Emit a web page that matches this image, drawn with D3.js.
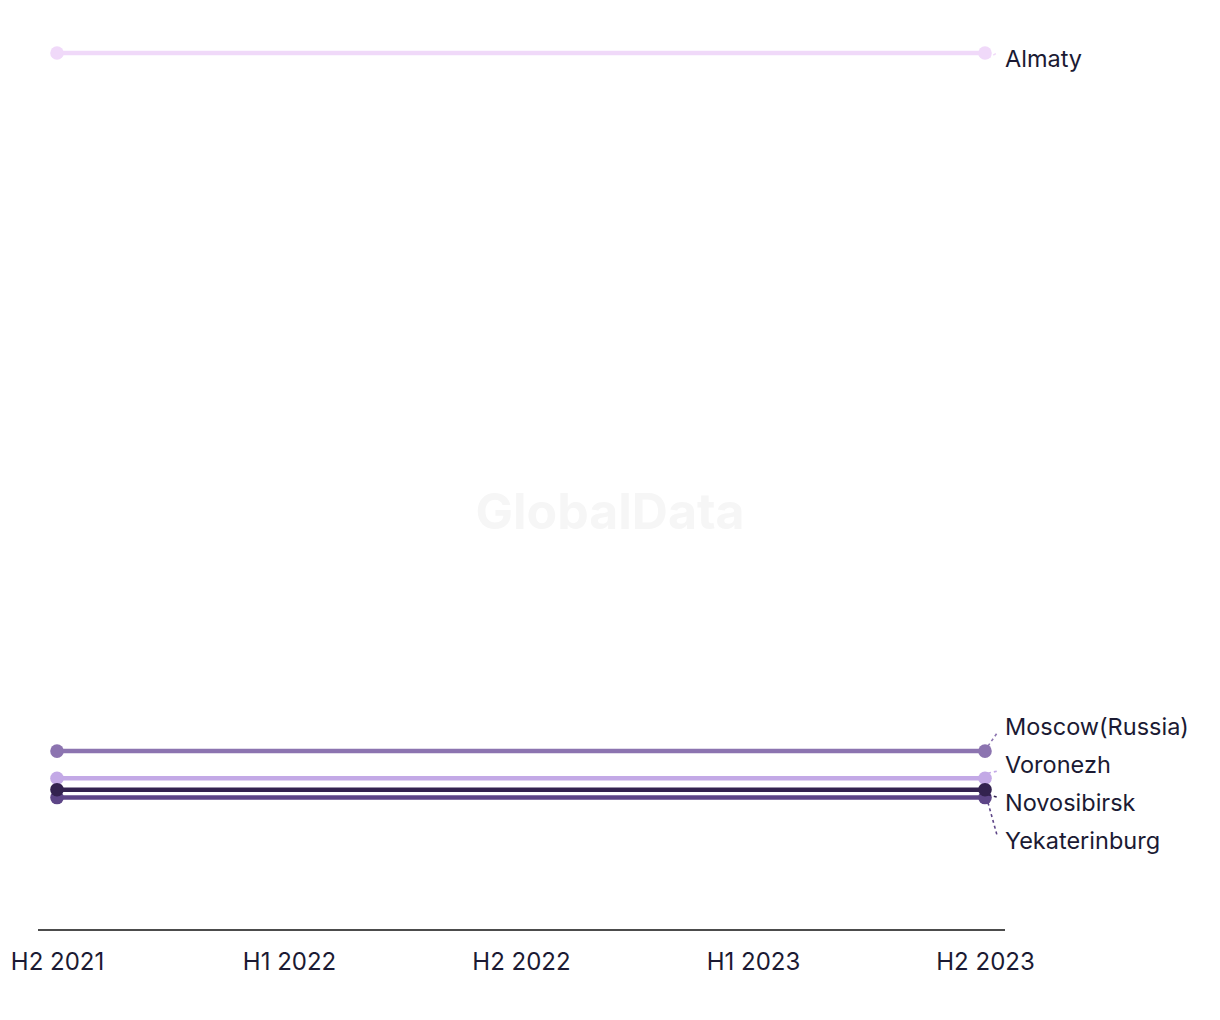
<!DOCTYPE html>
<html><head><meta charset="utf-8">
<script src="https://cdn.jsdelivr.net/npm/d3@7"></script>
<style>
body{margin:0;background:#fff;}
svg{display:block;font-family:Inter,"Noto Sans",sans-serif;}
</style></head>
<body><svg id="c" width="1220" height="1020"></svg>
<script>
const periods = ["H2 2021","H1 2022","H2 2022","H1 2023","H2 2023"];
const seriesNames = ["Almaty","Moscow(Russia)","Voronezh","Yekaterinburg","Novosibirsk"];
const seriesColors = ["#f0d9f9","#8c74b0","#c3a9e6","#5d4587","#33224f"];
const almaty      = [100, null, null, null, 100];
const moscow      = [20.4, null, null, null, 20.4];
const voronezh    = [17.3, null, null, null, 17.3];
const yekaterinburg = [15.1, null, null, null, 15.1];
const novosibirsk = [16.0, null, null, null, 16.0];
const seriesValues = [almaty, moscow, voronezh, yekaterinburg, novosibirsk];
const labelOrder = ["Almaty","Moscow(Russia)","Voronezh","Novosibirsk","Yekaterinburg"];

const svg = d3.select("#c");
const x = d3.scalePoint().domain(periods).range([57, 985]);
const y = d3.scaleLinear().domain([0, 100]).range([930, 53]);

// watermark
svg.append("text").attr("x", 610).attr("y", 529).attr("text-anchor","middle")
  .attr("font-size", 50).attr("font-weight", 700).attr("fill", "#f6f6f6")
  .attr("font-family","Inter,sans-serif").text("GlobalData");

// axis
const axisG = svg.append("g").attr("transform","translate(0,930)")
  .call(d3.axisBottom(x).tickSize(0).tickPadding(23));
axisG.select(".domain").attr("d","M38,0H1005").attr("stroke","#111").attr("stroke-width",1.6);
axisG.selectAll("text").attr("font-size",24).attr("fill","#1b1a33").attr("font-family","Inter,sans-serif");

const line = d3.line().x(d=>x(d.p)).y(d=>y(d.v));
const series = seriesNames.map((n,i)=>({name:n,color:seriesColors[i],
  pts:seriesValues[i].map((v,j)=>({p:periods[j],v})).filter(d=>d.v!=null)}));

series.forEach(s=>{
  svg.append("path").datum(s.pts).attr("d",line).attr("fill","none")
    .attr("stroke",s.color).attr("stroke-width",4.5);
  svg.selectAll(null).data(s.pts).enter().append("circle")
    .attr("cx",d=>x(d.p)).attr("cy",d=>y(d.v)).attr("r",6.8).attr("fill",s.color);
});

// labels with simple collision avoidance
const labels = series.map(s=>({name:s.name,color:s.color,py:y(s.pts[s.pts.length-1].v)}))
  .sort((a,b)=>labelOrder.indexOf(a.name)-labelOrder.indexOf(b.name));
const gap = 38;
labels.forEach(l=>l.ly=l.py);
const cluster = labels.filter(l=>l.name!=="Almaty");
const mean = d3.mean(cluster,l=>l.py);
const start = mean - gap*(cluster.length-1)/2 + 5;
cluster.forEach((l,i)=>l.ly=start+i*gap);
labels.find(l=>l.name==="Almaty").ly = labels.find(l=>l.name==="Almaty").py + 6;

labels.forEach(l=>{
  if (Math.abs(l.ly-l.py)>4){
    const dir = l.ly<l.py?-1:1;
    svg.append("path").attr("d",`M${985+3},${l.py+dir*5}L${997},${l.ly+ (dir<0?6:-6)}`)
      .attr("stroke",l.color).attr("stroke-width",1.6).attr("stroke-dasharray","3,3").attr("fill","none");
  } else if (l.name!=="Almaty") {
    svg.append("path").attr("d",`M${989},${l.py+3}L${996},${l.ly+7}`)
      .attr("stroke",l.color).attr("stroke-width",1.6).attr("fill","none");
  }
  svg.append("text").attr("x",1005).attr("y",l.ly).attr("dy","0.35em")
    .attr("font-size",23.5).attr("fill","#1b1a33").attr("font-family","Inter,sans-serif").text(l.name);
});
</script></body></html>
